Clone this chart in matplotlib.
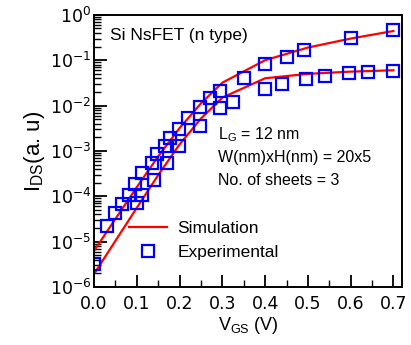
import numpy as np
import matplotlib.pyplot as plt
from matplotlib.ticker import LogLocator, MultipleLocator, NullFormatter

# simulated transfer curves
v_sim = [0.0, 0.05, 0.10, 0.15, 0.20, 0.25, 0.30, 0.40, 0.50, 0.60, 0.70]
i_sim_hi = [6.3e-6, 3.2e-5, 1.6e-4, 7.6e-4, 3.2e-3, 1.12e-2, 3.2e-2, 0.10, 0.19, 0.30, 0.44]
i_sim_lo = [1.95e-6, 1.05e-5, 5.6e-5, 2.95e-4, 1.4e-3, 5.2e-3, 1.5e-2, 4.0e-2, 5.0e-2, 5.6e-2, 6.0e-2]

# measured points
v_exp_hi = [0.0, 0.031, 0.049, 0.065, 0.082, 0.096, 0.111, 0.135, 0.146, 0.166, 0.178,
            0.198, 0.220, 0.248, 0.272, 0.295, 0.35, 0.40, 0.45, 0.49, 0.60, 0.70]
i_exp_hi = [3.2e-6, 2.2e-5, 4.3e-5, 6.6e-5, 1.07e-4, 1.9e-4, 3.2e-4, 5.5e-4, 8.5e-4, 1.26e-3, 1.9e-3,
            3.0e-3, 5.2e-3, 9.5e-3, 1.45e-2, 2.1e-2, 4.0e-2, 8.1e-2, 0.12, 0.17, 0.31, 0.47]
v_exp_lo = [0.10, 0.111, 0.139, 0.17, 0.198, 0.248, 0.295, 0.325, 0.40, 0.44, 0.495,
            0.54, 0.595, 0.64, 0.70]
i_exp_lo = [7.2e-5, 1.07e-4, 2.3e-4, 5.4e-4, 1.26e-3, 3.5e-3, 8.7e-3, 1.17e-2, 2.3e-2, 3.0e-2, 3.9e-2,
            4.4e-2, 5.1e-2, 5.5e-2, 5.75e-2]

sans = 'Liberation Sans'

fig = plt.figure(figsize=(4.11, 3.45), dpi=100)
ax = fig.add_axes([0.229, 0.168, 0.749, 0.789])

red = '#ff0000'
blue = '#0000ff'
ax.plot(v_sim, i_sim_hi, '-', color=red, lw=1.6, label='Simulation')
ax.plot(v_sim, i_sim_lo, '-', color=red, lw=1.6)
ax.plot(v_exp_hi, i_exp_hi, 's', ms=8, mfc='none', mec=blue, mew=1.6, label='Experimental')
ax.plot(v_exp_lo, i_exp_lo, 's', ms=8, mfc='none', mec=blue, mew=1.6)

ax.set_yscale('log')
ax.set_xlim(0, 0.72)
ax.set_ylim(1e-6, 1)
ax.xaxis.set_major_locator(MultipleLocator(0.1))
ax.xaxis.set_minor_locator(MultipleLocator(0.05))
ax.yaxis.set_major_locator(LogLocator(base=10, numticks=10))
ax.yaxis.set_minor_locator(LogLocator(base=10, subs=np.arange(2, 10), numticks=20))
ax.yaxis.set_minor_formatter(NullFormatter())
ax.tick_params(which='both', direction='in', top=False, right=False, labelsize=12.5)
ax.tick_params(axis='x', pad=5.5)
ax.tick_params(axis='y', pad=2)
ax.tick_params(which='major', length=9, width=1.3)
ax.tick_params(which='minor', length=5, width=1.0)
for s in ax.spines.values():
    s.set_linewidth(1.4)

ax.set_xlabel(r'$\mathregular{V_{GS}}$ (V)', family=sans, fontsize=13, labelpad=2)
ax.set_ylabel(r'$\mathregular{I_{DS}}$(a. u)', family=sans, fontsize=16, labelpad=2)

ax.text(0.05, 0.925, 'Si NsFET (n type)', transform=ax.transAxes, family=sans,
        fontsize=12.5, va='center', ha='left')
notes = [r'$\mathregular{L_G}$ = 12 nm', 'W(nm)xH(nm) = 20x5', 'No. of sheets = 3']
for k, t in enumerate(notes):
    ax.text(0.403, 0.560 - k * 0.085, t, transform=ax.transAxes, family=sans,
            fontsize=11.5, va='center', ha='left')

ax.legend(loc='lower left', bbox_to_anchor=(0.09, 0.075), frameon=False,
          prop={'family': sans, 'size': 12.5}, handlelength=2.2,
          handletextpad=0.6, labelspacing=0.5, borderaxespad=0)

fig.savefig('out.png', dpi=100)
